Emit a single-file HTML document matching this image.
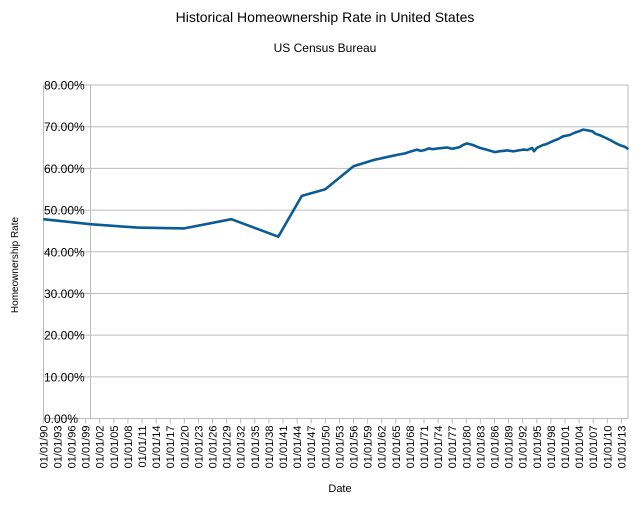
<!DOCTYPE html>
<html><head><meta charset="utf-8"><style>
body{margin:0;background:#fff;}
svg text{font-family:"Liberation Sans",sans-serif;fill:#000;}
</style></head><body>
<svg id="chart" width="642" height="503" viewBox="0 0 642 503" xmlns="http://www.w3.org/2000/svg">
<rect width="642" height="503" fill="#fff"/>
<text x="325" y="22" font-size="14" text-anchor="middle">Historical Homeownership Rate in United States</text>
<text x="325" y="52" font-size="12" text-anchor="middle">US Census Bureau</text>
<text transform="translate(18,265) rotate(-90)" font-size="10" text-anchor="middle">Homeownership Rate</text>
<text x="340" y="492" font-size="11" text-anchor="middle">Date</text>
<g id="grid"></g>
<g id="xticks"></g>
<path id="series" fill="none" stroke="#0b5c96" stroke-width="2.6" stroke-linejoin="round"/>
<g id="ylabels"></g>
</svg>
<script>
const years = [1890,1900,1910,1920,1930,1940,1945,1950,1956,1960.3,1965.5,1967,1968,1969.5,1970.3,1971.2,1972,1972.9,1974,1975.9,1977,1978.6,1979.3,1980.1,1981.4,1982.9,1984,1986.1,1987,1988.7,1990,1992.1,1993,1994,1994.4,1995,1996.3,1997,1998.5,1999.5,2000.6,2002,2003.2,2004,2004.9,2005.8,2006.8,2007.5,2008.5,2009.5,2010.6,2011.7,2012.8,2013.7,2014.5];
const values = [47.8,46.6,45.8,45.6,47.8,43.6,53.4,55.0,60.5,62.0,63.3,63.6,64.0,64.5,64.2,64.4,64.8,64.6,64.8,65.0,64.7,65.1,65.6,66.0,65.6,64.9,64.6,63.9,64.1,64.3,64.1,64.5,64.4,64.9,64.1,64.9,65.6,65.8,66.6,67.0,67.7,68.0,68.6,68.9,69.3,69.1,68.9,68.3,67.9,67.4,66.8,66.1,65.5,65.2,64.6];
const yTicks = [0,10,20,30,40,50,60,70,80];
const yTickLabels = ["0.00%","10.00%","20.00%","30.00%","40.00%","50.00%","60.00%","70.00%","80.00%"];
const xTickYears = [];
for (let y = 1890; y <= 2013; y += 3) xTickYears.push(y);

const L = 43.5, R = 628, T = 85, B = 418.5;
const xs = yr => 43.3 + (yr - 1890) * 4.7;
const ys = v => B - (v / 80) * (B - T);
const NS = "http://www.w3.org/2000/svg";
const grid = document.getElementById('grid');
const ylab = document.getElementById('ylabels');
const xt = document.getElementById('xticks');
function mk(tag, attrs, parent){const e=document.createElementNS(NS,tag);for(const k in attrs)e.setAttribute(k,attrs[k]);parent.appendChild(e);return e;}

yTicks.forEach((v,i)=>{
  const g = mk('line',{x1:L,x2:R,y1:ys(v),y2:ys(v),stroke:'#bbb','stroke-width':1},grid);
  
  
  const t = mk('text',{x:44,y:ys(v)+4.5,'font-size':12},ylab);
  t.textContent = yTickLabels[i];
  
  
});
const fr = mk('rect',{x:L,y:T,width:R-L,height:B-T,fill:'none',stroke:'#bbb','stroke-width':1},grid);


const vl = mk('line',{x1:90.5,x2:90.5,y1:T,y2:B,stroke:'#bbb','stroke-width':1},grid);



xTickYears.forEach(yr=>{
  const x = xs(yr);
  const tk = mk('line',{x1:x,x2:x,y1:B,y2:B+5,stroke:'#bbb','stroke-width':1},xt);
  
  
  const t = mk('text',{transform:`translate(${x+4},${B+7}) rotate(-90)`,'font-size':11,'text-anchor':'end'},xt);
  t.textContent = '01/01/' + String(yr % 100).padStart(2,'0');
  
  
});

document.getElementById('series').setAttribute('d', years.map((yr,i)=>(i?'L':'M')+xs(yr).toFixed(1)+','+ys(values[i]).toFixed(1)).join(' '));
</script>
</body></html>
